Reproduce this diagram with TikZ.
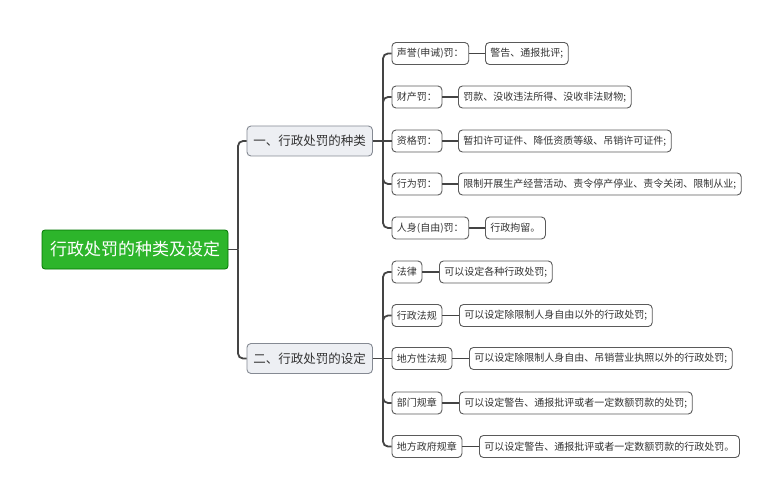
\documentclass[tikz,border=0pt]{standalone}
\usepackage{fontspec}
\setmainfont{Noto Sans CJK SC}
\begin{document}
\begin{tikzpicture}[x=1pt,y=-1pt,
  rootbox/.style={draw=green!45!black, fill=rootgreen, rounded corners=3pt, text=white,
    font=\fontsize{17}{17}\selectfont, minimum height=39pt, inner xsep=8pt, inner ysep=0pt, line width=0.8pt},
  topicbox/.style={draw=topicborder, fill=topicfill, rounded corners=4pt, text=textgray,
    font=\fontsize{12.5}{12.5}\selectfont, minimum height=30pt, inner xsep=6.5pt, inner ysep=0pt, line width=0.9pt, anchor=west},
  subbox/.style={draw=boxborder, fill=white, rounded corners=4pt, text=textgray,
    font=\fontsize{10}{10}\selectfont, minimum height=22pt, inner xsep=5pt, inner ysep=0pt, line width=0.9pt, anchor=west},
  conn/.style={draw=linegray, line width=1.8pt},
  elbow/.style={conn, rounded corners=5pt}
]
\definecolor{rootgreen}{HTML}{2DB52B}
\definecolor{topicfill}{HTML}{EDEFF3}
\definecolor{topicborder}{HTML}{858A93}
\definecolor{boxborder}{HTML}{5A5A5A}
\definecolor{linegray}{HTML}{444444}
\definecolor{textgray}{HTML}{333333}
\useasboundingbox (0,0) rectangle (782,500);

% root
\node[rootbox] (root) at (135,249.5) {行政处罚的种类及设定};

% level 1
\node[topicbox] (ta) at (246.5,141) {一、行政处罚的种类};
\node[topicbox] (tb) at (246.5,358.5) {二、行政处罚的设定};

% level 2, group 1
\node[subbox] (a1) at (391.5,53.5) {声誉(申诫)罚：};
\node[subbox] (a2) at (391.5,97) {财产罚：};
\node[subbox] (a3) at (391.5,141) {资格罚：};
\node[subbox] (a4) at (391.5,184) {行为罚：};
\node[subbox] (a5) at (391.5,228) {人身(自由)罚：};

% leaves group 1
\node[subbox] (b1) at (485,53.5) {警告、通报批评;};
\node[subbox] (b2) at (458,97) {罚款、没收违法所得、没收非法财物;};
\node[subbox] (b3) at (458,141) {暂扣许可证件、降低资质等级、吊销许可证件;};
\node[subbox] (b4) at (458,184) {限制开展生产经营活动、责令停产停业、责令关闭、限制从业;};
\node[subbox] (b5) at (485,228) {行政拘留。};

% level 2, group 2
\node[subbox] (c1) at (391.5,272) {法律};
\node[subbox] (c2) at (391.5,315.5) {行政法规};
\node[subbox] (c3) at (391.5,358.5) {地方性法规};
\node[subbox] (c4) at (391.5,403) {部门规章};
\node[subbox] (c5) at (391.5,446.5) {地方政府规章};

% leaves group 2
\node[subbox] (d1) at (439,272) {可以设定各种行政处罚;};
\node[subbox] (d2) at (459,315.5) {可以设定除限制人身自由以外的行政处罚;};
\node[subbox] (d3) at (469,358.5) {可以设定除限制人身自由、吊销营业执照以外的行政处罚;};
\node[subbox] (d4) at (459,403) {可以设定警告、通报批评或者一定数额罚款的处罚;};
\node[subbox] (d5) at (479,446.5) {可以设定警告、通报批评或者一定数额罚款的行政处罚。};

% junction coordinates
\coordinate (j0) at (238,249.5);
\coordinate (ja) at (383,141);
\coordinate (jb) at (383,358.5);

% root connectors
\draw[conn] (root.east) -- (j0);
\draw[elbow] (j0) |- (ta.west);
\draw[elbow] (j0) |- (tb.west);

% group 1 connectors
\draw[conn] (ta.east) -- (ja);
\foreach \n in {a1,a2,a4,a5} \draw[elbow] (ja) |- (\n.west);
\draw[conn] (ja) -- (a3.west);

% group 2 connectors
\draw[conn] (tb.east) -- (jb);
\foreach \n in {c1,c2,c4,c5} \draw[elbow] (jb) |- (\n.west);
\draw[conn] (jb) -- (c3.west);

% leaf connectors
\draw[conn] (a1.east) -- (b1.west);
\draw[conn] (a2.east) -- (b2.west);
\draw[conn] (a3.east) -- (b3.west);
\draw[conn] (a4.east) -- (b4.west);
\draw[conn] (a5.east) -- (b5.west);
\draw[conn] (c1.east) -- (d1.west);
\draw[conn] (c2.east) -- (d2.west);
\draw[conn] (c3.east) -- (d3.west);
\draw[conn] (c4.east) -- (d4.west);
\draw[conn] (c5.east) -- (d5.west);
\end{tikzpicture}
\end{document}
